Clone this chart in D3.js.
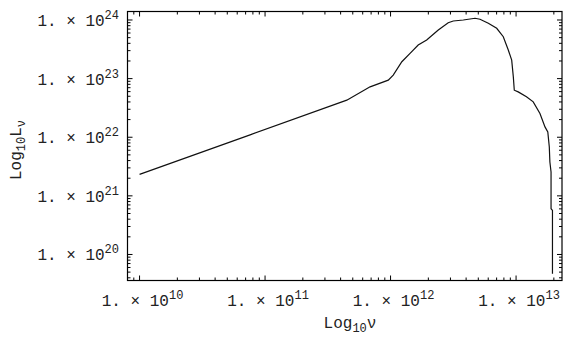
<!DOCTYPE html>
<html>
<head>
  <style>
    body { margin: 0; background: #fff; }
    .frame { fill: none; stroke: #000; stroke-width: 1.2; }
    .tick line { stroke: #000; stroke-width: 1; }
    .lbl { font-family: 'Liberation Mono', 'DejaVu Sans Mono', monospace; font-size: 16px; fill: #222; }
    .curve { fill: none; stroke: #111; stroke-width: 1.2; }
  </style>
</head>
<body>
<svg id="chart"></svg>
<script src="https://cdn.jsdelivr.net/npm/d3@7"></script>
<script>
// frequency (Hz) and luminosity
var nu = [1.00e10, 7.60e10, 4.48e11, 6.87e11, 9.59e11, 1.05e12, 1.23e12, 1.43e12, 1.66e12,
          1.94e12, 2.40e12, 2.88e12, 3.16e12, 3.80e12, 4.71e12, 5.16e12, 6.01e12, 7.01e12,
          7.91e12, 8.67e12, 9.23e12, 9.51e12, 9.68e12, 1.04e13, 1.21e13, 1.37e13, 1.55e13,
          1.70e13, 1.79e13, 1.84e13, 1.86e13, 1.90e13, 1.90e13, 1.95e13, 1.95e13];
var lum = [2.33e21, 1.10e22, 4.29e22, 7.24e22, 9.42e22, 1.15e23, 1.94e23, 2.70e23, 3.74e23,
           4.55e23, 6.75e23, 9.00e23, 9.62e23, 1.00e24, 1.07e24, 1.03e24, 8.79e23, 7.21e23,
           5.19e23, 3.07e23, 2.07e23, 1.07e23, 6.35e22, 5.94e22, 4.89e22, 4.01e22, 2.54e22,
           1.50e22, 1.23e22, 6.82e21, 3.78e21, 2.55e21, 6.04e20, 5.65e20, 4.68e19];

var xTickExp = [10, 11, 12, 13];
var yTickExp = [20, 21, 22, 23, 24];

var width = 566, height = 341;
var pl = 127.5, pr = 562, pt = 11.5, pb = 280.5;  // frame edges (don't use "top", it's window.top)

var svg = d3.select('#chart').attr('width', width).attr('height', height);

var x = d3.scaleLog().domain([Math.pow(10, 9.904), Math.pow(10, 13.366)]).range([pl, pr]);
var y = d3.scaleLog().domain([Math.pow(10, 19.556), Math.pow(10, 24.145)]).range([pb, pt]);

// major + minor ticks (1..9 per decade)
function logTicks(scale) {
  var d = scale.domain(), out = [];
  for (var e = Math.floor(Math.log10(d[0])); e <= Math.ceil(Math.log10(d[1])); e++) {
    for (var m = 1; m < 10; m++) {
      var v = m * Math.pow(10, e);
      if (v >= d[0] && v <= d[1]) out.push({ v: v, major: m === 1 });
    }
  }
  return out;
}

var xt = logTicks(x), yt = logTicks(y);
var g = svg.append('g').attr('class', 'tick');

// bottom & top
xt.forEach(function (t) {
  var px = x(t.v), len = t.major ? 5 : 3;
  g.append('line').attr('x1', px).attr('x2', px).attr('y1', pb).attr('y2', pb - len);
  g.append('line').attr('x1', px).attr('x2', px).attr('y1', pt).attr('y2', pt + len);
});
// left & right
yt.forEach(function (t) {
  var py = y(t.v), len = t.major ? 5 : 3;
  g.append('line').attr('y1', py).attr('y2', py).attr('x1', pl).attr('x2', pl + len);
  g.append('line').attr('y1', py).attr('y2', py).attr('x1', pr).attr('x2', pr - len);
});

svg.append('rect').attr('class', 'frame')
  .attr('x', pl).attr('y', pt).attr('width', pr - pl).attr('height', pb - pt);

function sciLabel(sel, e) {
  sel.append('tspan').text('1. \u00d7 10');
  sel.append('tspan').attr('dy', -7).style('font-size', '12px').text(e);
}

xTickExp.forEach(function (e) {
  var t = svg.append('text').attr('class', 'lbl')
    .attr('x', x(Math.pow(10, e)) + 3).attr('y', 306).attr('text-anchor', 'middle');
  sciLabel(t, e);
});

yTickExp.forEach(function (e) {
  var t = svg.append('text').attr('class', 'lbl')
    .attr('x', 119).attr('y', y(Math.pow(10, e)) + 6).attr('text-anchor', 'end');
  sciLabel(t, e);
});

// axis titles
var xl = svg.append('text').attr('class', 'lbl').attr('x', 350).attr('y', 328).attr('text-anchor', 'middle');
xl.append('tspan').text('Log');
xl.append('tspan').attr('dy', 4).style('font-size', '12px').text('10');
xl.append('tspan').attr('dy', -4).text('\u03bd');

var yl = svg.append('text').attr('class', 'lbl')
  .attr('transform', 'translate(21,150) rotate(-90)').attr('text-anchor', 'middle');
yl.append('tspan').text('Log');
yl.append('tspan').attr('dy', 4).style('font-size', '12px').text('10');
yl.append('tspan').attr('dy', -4).text('L');
yl.append('tspan').attr('dy', 4).style('font-size', '12px').text('\u03bd');

var line = d3.line().x(function (d, i) { return x(nu[i]); }).y(function (d, i) { return y(lum[i]); });
svg.append('path').datum(nu).attr('class', 'curve').attr('d', line);
</script>
</body>
</html>
